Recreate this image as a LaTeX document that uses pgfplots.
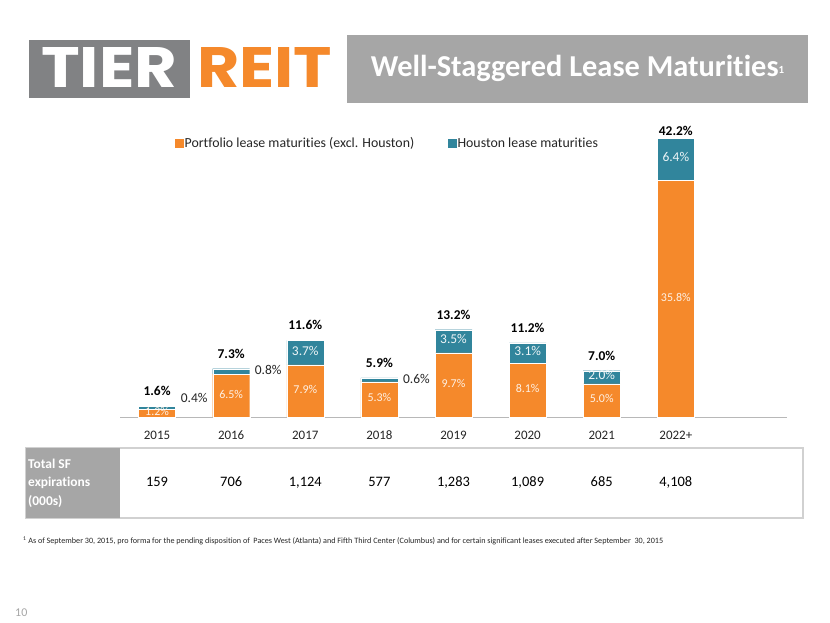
\documentclass[border=0pt]{standalone}
\usepackage{fontspec}
\setmainfont{Carlito}[Ligatures=NoCommon]
\newfontfamily\logofont{Poppins}
\usepackage{pgfplots}
\pgfplotsset{compat=1.18}
\definecolor{orng}{HTML}{F5892B}
\definecolor{teal2}{HTML}{31859C}
\definecolor{boxgray}{HTML}{A6A6A6}
\definecolor{logogray}{HTML}{818284}
\definecolor{txt}{HTML}{262626}
\begin{document}
\begin{tikzpicture}[x=1bp,y=1bp]
\path[fill=white] (0,0) rectangle (830,623);
% logo
\fill[logogray] (29,525) rectangle (190,583);
\node[anchor=south west, inner sep=0, text=white] at (41,535) {\resizebox{136bp}{40bp}{\logofont\bfseries TIER}};
\node[anchor=south west, inner sep=0, text=orng] at (197,535) {\resizebox{135bp}{40bp}{\logofont\bfseries REIT}};
% title
\fill[boxgray] (347,520) rectangle (808,588);
\node[text=white, font=\fontsize{30.5}{33}\selectfont\bfseries] at (577.5,555) {Well-Staggered Lease Maturities\raisebox{3bp}{\fontsize{11}{12}\selectfont 1}};
% table
\draw[black!18, line width=1.2bp] (26,105) rectangle (803,175);
\fill[boxgray] (26,105) rectangle (120,175);
\node[anchor=west, align=left, text=white, inner sep=0, font=\fontsize{13.5}{18.5}\selectfont\bfseries] at (28,140) {Total SF\\expirations\\(000s)};
% footnote
\node[anchor=west, inner sep=0, text=txt] at (23,82) {\resizebox{640bp}{!}{\textsuperscript{1} As of September 30, 2015, pro forma for the pending disposition of~ Paces West (Atlanta) and Fifth Third Center (Columbus) and for certain significant leases executed after September~ 30, 2015}};
\node[anchor=west, inner sep=0, text=boxgray, font=\fontsize{12}{14}\selectfont] at (15,10) {10};

\begin{axis}[
  at={(120bp,206bp)}, anchor=south west, scale only axis,
  width=667bp, height=297.45bp,
  xmin=-0.5, xmax=8.5, ymin=0, ymax=45,
  ybar stacked, bar width=37bp,
  axis y line=none, axis x line=bottom,
  x axis line style={-, draw=black!28, line width=0.9bp},
  xtick={0,1,2,3,4,5,6,7},
  xticklabels={2015,2016,2017,2018,2019,2020,2021,2022+},
  major tick length=0pt,
  xticklabel style={font=\fontsize{13}{15}\selectfont, text=txt, anchor=center, yshift=-20bp,
    inner sep=0pt, text height=0.65em, text depth=0.15em},
  clip=false,
  legend columns=2,
  legend style={at={(axis description cs:0.082,0.921)}, anchor=west, draw=none, fill=none, inner sep=0pt,
    font=\fontsize{13.9}{15}\selectfont, text=txt,
    nodes={inner sep=1.5bp},
    /tikz/every even column/.append style={column sep=32bp}},
]
\addplot[fill=orng, draw=white, line width=0.3bp,
  legend image code/.code={\fill[orng] (0bp,-4bp) rectangle (8bp,4bp);}]
  coordinates {(0,1.2)(1,6.5)(2,7.9)(3,5.3)(4,9.7)(5,8.1)(6,5.0)(7,35.8)};
\addlegendentry{Portfolio lease maturities (excl. Houston)}
\addplot[fill=teal2, draw=white, line width=0.3bp,
  legend image code/.code={\fill[teal2] (0bp,-4bp) rectangle (8bp,4bp);}]
  coordinates {(0,0.4)(1,0.8)(2,3.7)(3,0.6)(4,3.5)(5,3.1)(6,2.0)(7,6.4)};
\addlegendentry{Houston lease maturities}
\end{axis}

\begin{axis}[
  at={(120bp,206bp)}, anchor=south west, scale only axis,
  width=667bp, height=297.45bp,
  xmin=-0.5, xmax=8.5, ymin=0, ymax=45,
  hide axis, clip=false,
  nodes near coords, point meta=explicit symbolic,
  every node near coord/.append style={anchor=center, inner sep=0pt, text height=0.65em, text depth=0.15em},
]
% labels inside orange segments
\addplot[draw=none, every node near coord/.append style={font=\fontsize{12}{13}\selectfont, text=white!88!orng}]
  coordinates {(0,0.6)[1.2\%] (1,3.25)[6.5\%] (2,3.95)[7.9\%] (3,2.65)[5.3\%] (4,4.85)[9.7\%] (5,4.05)[8.1\%] (6,2.5)[5.0\%] (7,17.9)[35.8\%]};
% labels inside teal segments
\addplot[draw=none, every node near coord/.append style={font=\fontsize{13.5}{15}\selectfont, text=white!92!teal2}]
  coordinates {(2,9.75)[3.7\%] (4,11.45)[3.5\%] (5,9.65)[3.1\%] (6,6.0)[2.0\%] (7,39.0)[6.4\%]};
% small Houston values beside the bars
\addplot[draw=none, every node near coord/.append style={font=\fontsize{13.5}{15}\selectfont, text=txt}]
  coordinates {(0.5,2.6)[0.4\%] (1.5,6.8)[0.8\%] (3.5,5.45)[0.6\%]};
% totals
\addplot[draw=none, every node near coord/.append style={font=\fontsize{13.5}{15}\selectfont\bfseries, text=black}]
  coordinates {(0,3.57)[1.6\%] (1,9.27)[7.3\%] (2,13.57)[11.6\%] (3,7.87)[5.9\%] (4,15.17)[13.2\%] (5,13.17)[11.2\%] (6,8.97)[7.0\%] (7,43.0)[42.2\%]};
% table values
\addplot[draw=none, every node near coord/.append style={font=\fontsize{14.5}{16}\selectfont, text=black}]
  coordinates {(0,-10.1)[159] (1,-10.1)[706] (2,-10.1)[{1,124}] (3,-10.1)[577] (4,-10.1)[{1,283}] (5,-10.1)[{1,089}] (6,-10.1)[685] (7,-10.1)[{4,108}]};
\end{axis}
\end{tikzpicture}
\end{document}
